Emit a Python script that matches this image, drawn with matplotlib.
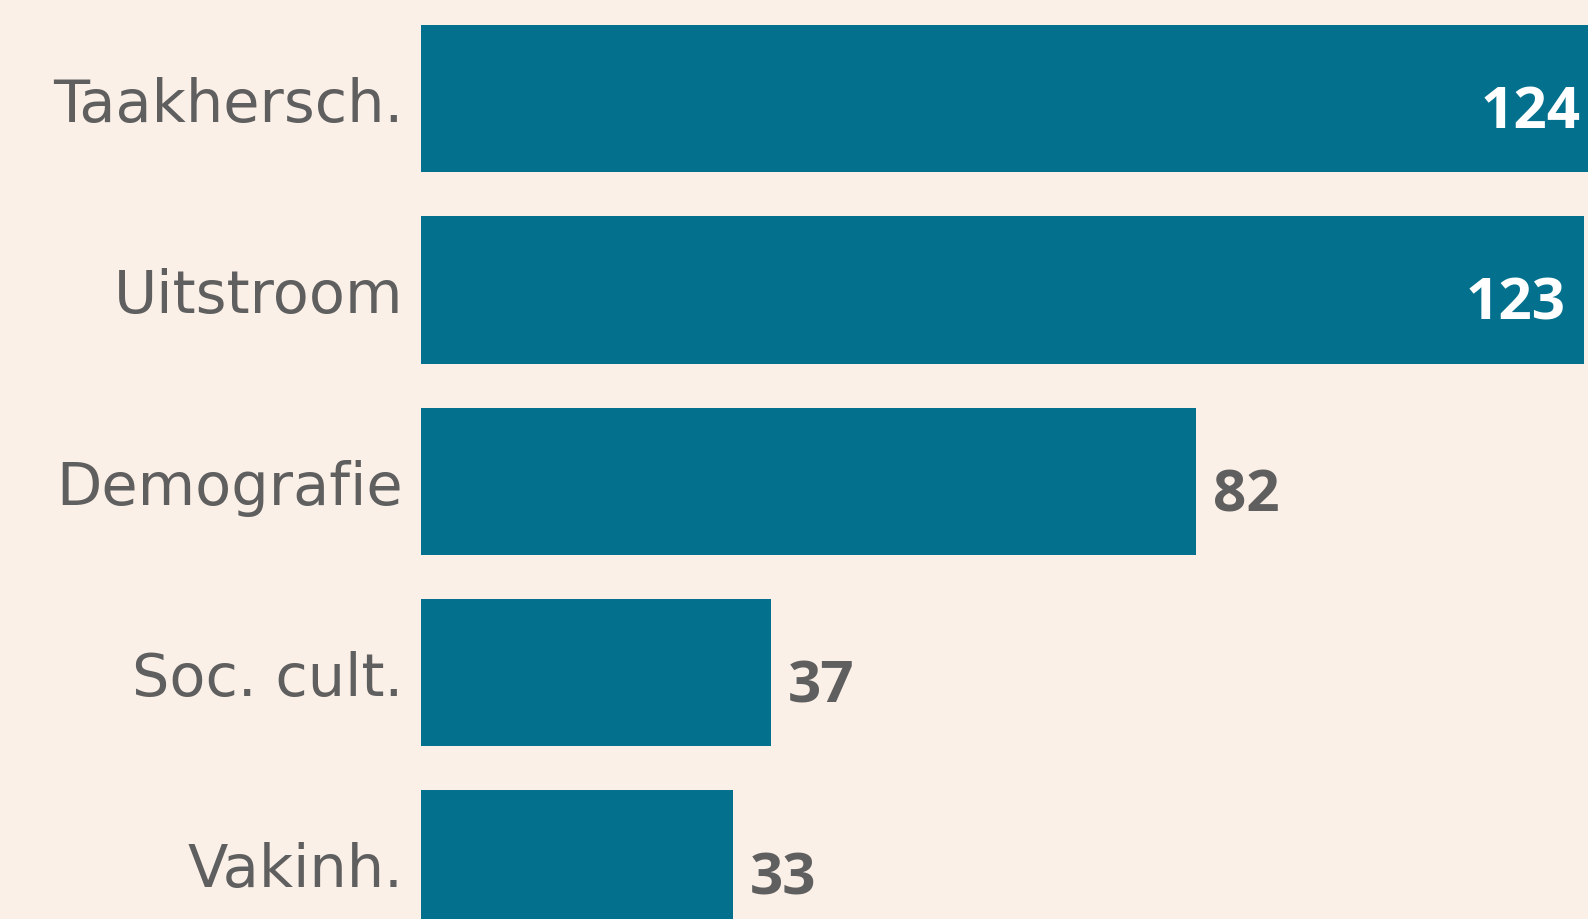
import matplotlib
matplotlib.use("Agg")
import matplotlib.pyplot as plt

categories = ["Taakhersch.", "Uitstroom", "Demografie", "Soc. cult.", "Vakinh."]
values = [124, 123, 82, 37, 33]
inside = [True, True, False, False, False]

BG = "#FBF0E8"
BAR = "#03718D"
GREY = "#5F5F5F"

W, H = 1588, 920
fig = plt.figure(figsize=(W / 100, H / 100), dpi=100, facecolor=BG)
left_px = 421
ax = fig.add_axes([left_px / W, 0, 1 - left_px / W, 1])
ax.set_facecolor(BG)

ypos = list(range(len(categories)))
ax.barh(ypos, values, height=0.77, color=BAR, edgecolor="none")
ax.set_xlim(0, 123.4)
ax.set_ylim(4.289, -0.521)
ax.axis("off")

NUMFONT = ["Open Sans", "DejaVu Sans"]
for i, (cat, v, ins) in enumerate(zip(categories, values, inside)):
    ax.annotate(cat, xy=(0, i), xycoords=ax.get_yaxis_transform(),
                xytext=(-18, -22.5), textcoords="offset pixels",
                ha="right", va="baseline", fontsize=42.5, color=GREY,
                family="DejaVu Sans", annotation_clip=False)
    if ins:
        ax.annotate(str(v), xy=(min(v, 123.4), i), xycoords="data",
                    xytext=(-7 if v > 123.4 else -19, -28.5), textcoords="offset pixels",
                    ha="right", va="baseline", fontsize=42, fontweight="bold",
                    color="white", family=NUMFONT, annotation_clip=False)
    else:
        ax.annotate(str(v), xy=(v, i), xycoords="data",
                    xytext=(17, -29.5), textcoords="offset pixels",
                    ha="left", va="baseline", fontsize=42, fontweight="bold",
                    color=GREY, family=NUMFONT, annotation_clip=False)

fig.savefig("out.png", dpi=100, facecolor=BG)
